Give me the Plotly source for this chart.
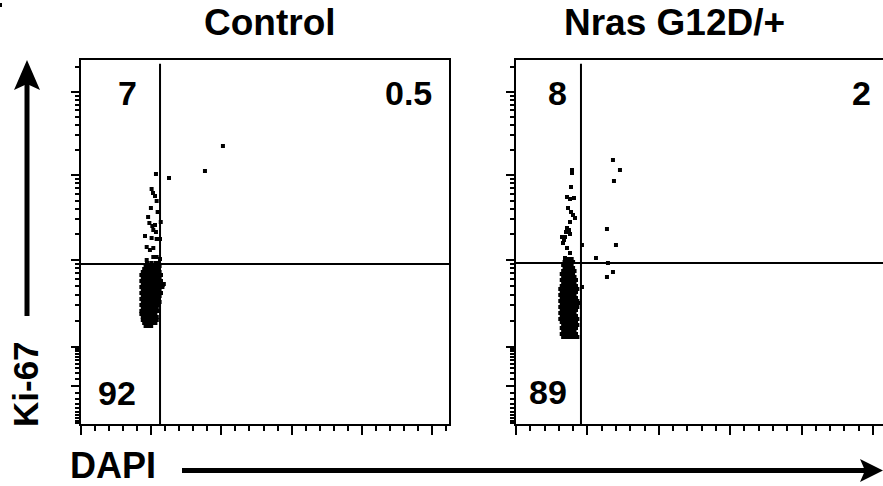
import math
import plotly.graph_objects as go

W, H = 883, 486

# ---------------- data ----------------
# X: DAPI intensity (x1000, linear). Y: Ki-67 on a logicle display scale (display units 0-364)
panel_titles = ["Control", "Nras G12D/+"]
ctrl_quadrants = ["7", "0.5", "92"]
nras_quadrants = ["8", "2", "89"]

# Control: dense core (rows of Ki-67 level -> DAPI values)
ctrl_core_rows = [
    (98, [46, 48, 50]),
    (101, [45, 47, 49, 51, 53]),
    (104, [44, 46, 48, 50, 52, 54]),
    (107, [44, 46, 48, 50, 52, 54]),
    (110, [43, 45, 47, 49, 51, 53]),
    (113, [43, 45, 47, 49, 51, 53, 55]),
    (116, [44, 46, 48, 50, 52, 54]),
    (119, [43, 45, 47, 49, 51, 53, 55]),
    (122, [44, 46, 48, 50, 52, 54, 56]),
    (125, [43, 45, 47, 49, 51, 53, 55]),
    (128, [44, 46, 48, 50, 52, 54, 56]),
    (131, [43, 45, 47, 49, 51, 53, 55, 57]),
    (134, [44, 46, 48, 50, 52, 54, 56]),
    (137, [43, 45, 47, 49, 51, 53, 55, 58]),
    (140, [44, 46, 48, 50, 52, 54, 56, 59]),
    (143, [43, 45, 47, 49, 51, 53, 55, 57]),
    (146, [44, 46, 48, 50, 52, 54, 56]),
    (149, [43, 45, 47, 49, 51, 53, 55, 57]),
    (152, [44, 46, 48, 50, 52, 54, 56]),
    (155, [45, 47, 49, 51, 53, 55]),
    (158, [46, 48, 50, 52, 54, 56]),
    (161, [47, 50, 53, 55]),
]
# Control: sparse events
ctrl_x = [53.4, 62.7, 88.3, 101.1, 50.3, 51.3, 52.7, 53.9, 54.6, 56.8, 48.7, 50.8,
          52.7, 51.5, 53.4, 45.6, 50.3, 53.9, 56.3, 46.8, 49.1, 51.5, 46.8, 51.5,
          53.9, 56.3, 58.2, 47.8, 49.8]
ctrl_y = [250, 246, 253, 278, 235, 231, 228, 223, 212, 202, 201, 198,
          199, 194, 192, 188, 186, 185, 185, 177, 174, 176, 164, 167,
          167, 165, 139, 207, 216]

# Nras G12D/+: dense core
nras_core_rows = [
    (87, [33, 35, 37, 39, 41, 43]),
    (90, [32, 34, 36, 38, 40, 42]),
    (93, [33, 35, 37, 39, 41]),
    (96, [32, 34, 36, 38, 40, 42]),
    (99, [33, 35, 37, 39, 41, 43]),
    (102, [32, 34, 36, 38, 40, 42]),
    (105, [31, 33, 35, 37, 39, 41, 43]),
    (108, [32, 34, 36, 38, 40, 42]),
    (111, [31, 33, 35, 37, 39, 41]),
    (114, [32, 34, 36, 38, 40, 42]),
    (117, [31, 33, 35, 37, 39, 41, 43]),
    (120, [32, 34, 36, 38, 40, 42]),
    (123, [31, 33, 35, 37, 39, 41, 43]),
    (126, [32, 34, 36, 38, 40, 42]),
    (129, [31, 33, 35, 37, 39, 41]),
    (132, [32, 34, 36, 38, 40, 42]),
    (135, [31, 33, 35, 37, 39, 41, 43]),
    (138, [32, 34, 36, 38, 40, 42]),
    (141, [33, 35, 37, 39, 41]),
    (144, [32, 34, 36, 38, 40, 42]),
    (147, [33, 35, 37, 39, 41]),
    (150, [32, 34, 36, 38, 40]),
    (153, [33, 35, 37, 39, 41]),
    (156, [34, 36, 38, 40]),
    (159, [33, 35, 37, 39]),
    (162, [34, 36, 38, 40]),
    (165, [35, 37, 39]),
]
# Nras G12D/+: sparse events
nras_x = [39.2, 39.2, 38.5, 35.7, 37.8, 40.6, 36.4, 38.5, 39.9, 41.3, 37.8, 35.7,
          37.1, 32.2, 34.3, 33.6, 35.7, 37.8, 34.3, 35.0, 37.8, 32.9,
          67.9, 72.8, 68.6, 63.7, 70.0, 46.2, 56.0, 64.4, 67.9, 63.7, 46.2, 44.1]
nras_y = [254, 251, 237, 227, 225, 226, 216, 212, 209, 206, 202, 196,
          194, 187, 187, 184, 176, 171, 166, 192, 190, 181,
          264, 254, 243, 195, 179, 179, 166, 161, 152, 147, 137, 121]

# quadrant gates (DAPI x1000, Ki-67 display units)
ctrl_gate = (56.3, 160)
nras_gate = (45.5, 161)

# ---------------- scales ----------------
Y_MAX = 364
DEC = {0: 38, 2: 77, 3: 164, 4: 249, 5: 332}


def ki67_pos(v):
    if abs(v) <= 100:
        s = 1 if v >= 0 else -1
        return DEC[0] + s * 39 * math.asinh(abs(v) / 30) / math.asinh(100 / 30)
    lg = math.log10(v)
    d = int(math.floor(lg))
    lo = DEC[d]
    step = (DEC[d + 1] - DEC[d]) if d + 1 in DEC else 83
    return lo + (lg - d) * step


y_major = [DEC[0], DEC[2], DEC[3], DEC[4], DEC[5]]
y_minor = []
for m in range(1, 10):
    for s in (1, -1):
        p = ki67_pos(s * m * 10)
        if 0.5 < p < Y_MAX:
            y_minor.append(p)
for d in (2, 3, 4, 5):
    for m in range(2, 10):
        p = ki67_pos(m * 10 ** d)
        if p < Y_MAX:
            y_minor.append(p)

x_major = [0, 50, 100, 150, 200, 250]
x_minor = [v for v in range(0, 261, 10) if v % 50 != 0]

# ---------------- figure ----------------
def flatten(rows):
    xs, ys = [], []
    for yv, xvals in rows:
        for xv in xvals:
            xs.append(xv)
            ys.append(yv)
    return xs, ys


cx, cy = flatten(ctrl_core_rows)
nx, ny = flatten(nras_core_rows)

marker = dict(symbol="square", size=4, color="black", line=dict(width=0))
fig = go.Figure()
fig.add_trace(go.Scatter(x=cx + ctrl_x, y=cy + ctrl_y, mode="markers", marker=marker,
                         xaxis="x", yaxis="y", hoverinfo="skip"))
fig.add_trace(go.Scatter(x=nx + nras_x, y=ny + nras_y, mode="markers", marker=marker,
                         xaxis="x2", yaxis="y2", hoverinfo="skip"))

L_dom = [81 / W, 449 / W]
R_dom = [516 / W, 1.0]
Y_dom = [(H - 424) / H, (H - 60) / H]


def xaxis(domain, rng, anchor):
    return dict(domain=domain, range=rng, anchor=anchor, showline=True, linecolor="black",
                linewidth=2, mirror=True, ticks="outside", tickvals=x_major, ticklen=9,
                tickwidth=2, tickcolor="black", showticklabels=False, showgrid=False,
                zeroline=False, automargin=False,
                minor=dict(tickvals=x_minor, ticks="outside", ticklen=5, tickwidth=1.5,
                           tickcolor="black", showgrid=False))


def yaxis(anchor, mirror):
    return dict(domain=Y_dom, range=[0, Y_MAX], anchor=anchor, showline=True, linecolor="black",
                linewidth=2, mirror=mirror, ticks="outside", tickvals=y_major, ticklen=8,
                tickwidth=2, tickcolor="black", showticklabels=False, showgrid=False,
                zeroline=False, automargin=False,
                minor=dict(tickvals=y_minor, ticks="outside", ticklen=4, tickwidth=1.5,
                           tickcolor="black", showgrid=False))


fig.update_layout(
    width=W, height=H, margin=dict(l=0, r=0, t=0, b=0, pad=0),
    paper_bgcolor="white", plot_bgcolor="white", showlegend=False,
    xaxis=xaxis(L_dom, [0, 262.144], "y"),
    yaxis=yaxis("x", True),
    xaxis2=xaxis(R_dom, [0, 257.0], "y2"),
    yaxis2=yaxis("x2", False),
)

shapes = []
# quadrant gates
for xr, yr, (gx, gy) in (("x", "y", ctrl_gate), ("x2", "y2", nras_gate)):
    shapes.append(dict(type="line", xref=xr, yref=yr + " domain", x0=gx, x1=gx, y0=0, y1=0.99,
                       line=dict(color="black", width=2)))
    shapes.append(dict(type="line", xref=xr + " domain", yref=yr, x0=0, x1=1, y0=gy, y1=gy,
                       line=dict(color="black", width=2)))


def px(x):
    return x / W


def py(y):
    return 1 - y / H


# Ki-67 arrow (vertical)
shapes.append(dict(type="line", xref="paper", yref="paper", x0=px(27), x1=px(27),
                   y0=py(316), y1=py(82), line=dict(color="black", width=5)))
shapes.append(dict(type="path", xref="paper", yref="paper", fillcolor="black",
                   line=dict(color="black", width=0),
                   path=f"M {px(27)} {py(60)} L {px(40)} {py(90)} L {px(27)} {py(84)} "
                        f"L {px(14)} {py(90)} Z"))
# DAPI arrow (horizontal)
shapes.append(dict(type="line", xref="paper", yref="paper", x0=px(182), x1=px(868),
                   y0=py(470.5), y1=py(470.5), line=dict(color="black", width=5)))
shapes.append(dict(type="path", xref="paper", yref="paper", fillcolor="black",
                   line=dict(color="black", width=0),
                   path=f"M {px(883)} {py(470.5)} L {px(860)} {py(459)} L {px(865)} {py(470.5)} "
                        f"L {px(860)} {py(482)} Z"))
# cropped panel-letter remnant in the corner
shapes.append(dict(type="rect", xref="paper", yref="paper", x0=0, x1=px(2), y0=py(7), y1=py(3),
                   fillcolor="black", line=dict(width=0)))
fig.update_layout(shapes=shapes)

FONT = "Liberation Sans, Arial, Helvetica, sans-serif"
ann = []


def text(t, x, y, size, angle=0):
    ann.append(dict(text=t, x=px(x), y=py(y), xref="paper", yref="paper", showarrow=False,
                    xanchor="center", yanchor="middle", textangle=angle,
                    font=dict(family=FONT, size=size, color="black", weight="bold")))


text(panel_titles[0], 270, 22, 37)
text(panel_titles[1], 674.5, 22, 37)
text(ctrl_quadrants[0], 127.5, 93, 34)
text(ctrl_quadrants[1], 408, 93, 34)
text(ctrl_quadrants[2], 117.5, 393, 34)
text(nras_quadrants[0], 557.5, 93, 34)
text(nras_quadrants[1], 861, 93, 34)
text(nras_quadrants[2], 547.5, 392, 34)
text("Ki-67", 25, 384, 35, angle=-90)
text("DAPI", 113, 465.5, 36)
fig.update_layout(annotations=ann)

fig.write_html("out.html", config={"displayModeBar": False},
               post_script="document.body.style.margin='0px';document.body.style.overflow='hidden';")
